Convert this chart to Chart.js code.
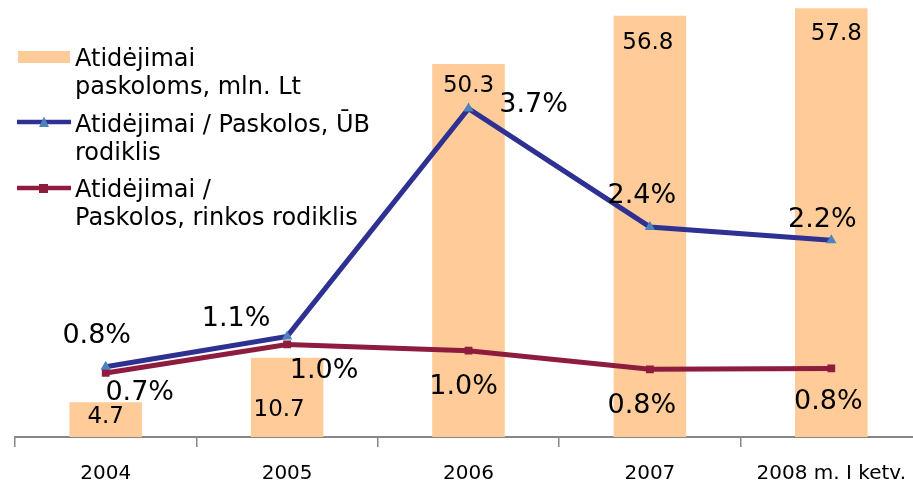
<!DOCTYPE html>
<html>
<head>
<meta charset="utf-8">
<style>
  html, body { margin: 0; padding: 0; background: #fff; overflow: hidden; width: 913px; height: 485px; }
  #wrap { position: absolute; left: 0; top: -14px; width: 928px; height: 499px; }
  #legend { position: absolute; left: 0; top: 0; width: 400px; height: 240px;
            font-family: "DejaVu Sans", Verdana, sans-serif; font-size: 24px; line-height: 28px;
            color: #000; }
  .item { position: absolute; left: 75px; white-space: nowrap; }
  .sw { position: absolute; left: 0; top: 0; }
</style>
<script src="https://cdn.jsdelivr.net/npm/chart.js@4/dist/chart.umd.min.js"></script>
</head>
<body>
<div id="wrap"><canvas id="chart" width="928" height="499"></canvas></div>
<div id="legend"></div>
<script>
(function () {
  "use strict";

  /* ---------- data ---------- */
  var categories = ["2004", "2005", "2006", "2007", "2008 m. I ketv."];
  var provisions = [4.7, 10.7, 50.3, 56.8, 57.8];          // mln. Lt
  var bankRatio = [0.79, 1.13, 3.69, 2.36, 2.21];          // %
  var marketRatio = [0.72, 1.04, 0.97, 0.76, 0.77];        // %
  var seriesNames = [
    "Atidėjimai paskoloms, mln. Lt",
    "Atidėjimai / Paskolos, ŪB rodiklis",
    "Atidėjimai / Paskolos, rinkos rodiklis"
  ];
  var legendLines = [
    ["Atidėjimai", "paskoloms, mln. Lt"],
    ["Atidėjimai / Paskolos, ŪB", "rodiklis"],
    ["Atidėjimai /", "Paskolos, rinkos rodiklis"]
  ];

  /* ---------- styles ---------- */
  var barColor = "#FFCC99";
  var blue = "#2E3192";
  var blueMarker = "#4F81BD";
  var red = "#8E1C3E";
  var font = "\"DejaVu Sans\", Verdana, sans-serif";

  // label offsets from each point (dx, dy), as placed in the original
  var barLabelOffsets = [[0, 15], [-8, 52], [0, 22], [-2, 27], [5, 26]];
  var bankLabelOffsets = [[-9, -31], [-51, -17], [65, -4], [-8, -31], [-9, -20]];
  var marketLabelOffsets = [[34, 20], [37, 27], [-5, 36], [-8, 37], [-3, 34]];

  var valueLabels = {
    id: "valueLabels",
    afterDatasetsDraw: function (chart) {
      var ctx = chart.ctx;
      ctx.save();
      ctx.fillStyle = "#000";
      ctx.textAlign = "center";
      ctx.textBaseline = "middle";
      chart.data.datasets.forEach(function (ds, di) {
        var meta = chart.getDatasetMeta(di);
        var offs = ds.labelOffsets;
        meta.data.forEach(function (el, i) {
          var v = ds.data[i];
          var txt = ds.type === "bar" ? v.toFixed(1) : v.toFixed(1) + "%";
          ctx.font = (ds.type === "bar" ? "23px " : "27px ") + font;
          ctx.fillText(txt, el.x + offs[i][0], el.y + offs[i][1]);
        });
      });
      ctx.restore();
    }
  };

  new Chart(document.getElementById("chart"), {
    data: {
      labels: categories,
      datasets: [
        {
          type: "line", label: seriesNames[2], data: marketRatio, yAxisID: "y1",
          borderColor: red, borderWidth: 5, pointStyle: "rect", pointRadius: 5.5,
          pointBackgroundColor: red, pointBorderColor: red, pointBorderWidth: 0,
          tension: 0, order: 2, labelOffsets: marketLabelOffsets
        },
        {
          type: "line", label: seriesNames[1], data: bankRatio, yAxisID: "y1",
          borderColor: blue, borderWidth: 5, pointStyle: "triangle", pointRadius: 6,
          pointBackgroundColor: blueMarker, pointBorderColor: blueMarker, pointBorderWidth: 0,
          tension: 0, order: 1, labelOffsets: bankLabelOffsets
        },
        {
          type: "bar", label: seriesNames[0], data: provisions, yAxisID: "y",
          backgroundColor: barColor, borderWidth: 0,
          categoryPercentage: 0.4, barPercentage: 1, order: 3, labelOffsets: barLabelOffsets
        }
      ]
    },
    options: {
      responsive: false,
      devicePixelRatio: 1,
      animation: false,
      layout: { padding: { left: 15, right: 0, top: 0, bottom: 0 } },
      plugins: { legend: { display: false }, tooltip: { enabled: false } },
      scales: {
        x: {
          offset: true,
          grid: { offset: true, drawOnChartArea: false, drawTicks: true, tickLength: 10,
                  color: "#868686", lineWidth: 1.5 },
          border: { color: "#868686", width: 2 },
          ticks: { color: "#000", font: { family: font, size: 20 }, padding: 15,
                   maxRotation: 0, autoSkip: false },
          afterFit: function (s) { s.height = 48; }
        },
        y: { display: false, min: 0, max: 60 },
        y1: { display: false, min: 0, max: 5 }
      }
    },
    plugins: [valueLabels]
  });

  /* ---------- legend (html, top-left overlay) ---------- */
  var legend = document.getElementById("legend");
  var tops = [44, 110, 175];
  var html = "<svg class='sw' width='80' height='200'>" +
    "<rect x='18' y='51' width='52' height='12' fill='" + barColor + "'/>" +
    "<line x1='17' y1='122' x2='71' y2='122' stroke='" + blue + "' stroke-width='4.5'/>" +
    "<polygon points='44,116.5 49,127 39,127' fill='" + blueMarker + "'/>" +
    "<line x1='17' y1='188' x2='71' y2='188' stroke='" + red + "' stroke-width='4.5'/>" +
    "<rect x='39' y='184' width='9' height='9' fill='" + red + "'/>" +
    "</svg>";
  legendLines.forEach(function (lines, i) {
    html += "<div class='item' style='top:" + tops[i] + "px'>" + lines.join("<br>") + "</div>";
  });
  legend.innerHTML = html;
})();
</script>
</body>
</html>
